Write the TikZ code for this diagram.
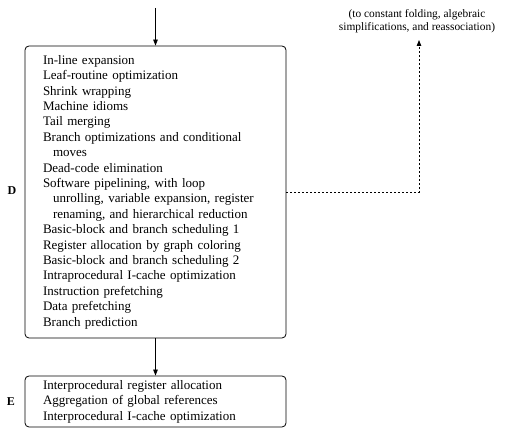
\documentclass[tikz,border=0pt]{standalone}
\usepackage{fontspec}
\setmainfont{Liberation Serif}
\usetikzlibrary{arrows.meta}
\begin{document}
\begin{tikzpicture}[x=1pt,y=1pt,
  phasebox/.style={draw, line width=0.8pt, rounded corners=4pt, minimum width=261pt,
    inner xsep=18pt, text width=225pt, align=left, anchor=center,
    font=\fontsize{13}{15.4}\selectfont},
  phaselabel/.style={font=\fontsize{12}{14}\selectfont\bfseries},
  flow/.style={line width=0.8pt, -{Triangle[length=6pt,width=4.5pt]}},
  dotflow/.style={line width=0.8pt, dash pattern=on 1.5pt off 2.5pt, -{Triangle[length=6pt,width=4.5pt]}},
  notetext/.style={align=center, font=\fontsize{11.4}{13}\selectfont}]
\useasboundingbox (0,0) rectangle (511,430);
\node[phasebox, minimum height=292pt] (D) at (155.5,238) {%
In-line expansion\\
Leaf-routine optimization\\
Shrink wrapping\\
Machine idioms\\
Tail merging\\
Branch optimizations and conditional\\
\hspace*{10pt}moves\\
Dead-code elimination\\
Software pipelining, with loop\\
\hspace*{10pt}unrolling, variable expansion, register\\
\hspace*{10pt}renaming, and hierarchical reduction\\
Basic-block and branch scheduling 1\\
Register allocation by graph coloring\\
Basic-block and branch scheduling 2\\
Intraprocedural I-cache optimization\\
Instruction prefetching\\
Data prefetching\\
Branch prediction};
\node[phasebox, minimum height=51pt] (E) at (155.5,28.5) {%
Interprocedural register allocation\\
Aggregation of global references\\
Interprocedural I-cache optimization};
\node[phaselabel] (Dl) at (12,239) {D};
\node[phaselabel] (El) at (11,28) {E};
\node[notetext] (note) at (417,408.5) {(to constant folding, algebraic\\simplifications, and reassociation)};
\coordinate (in) at (155.5,422);
\coordinate (turn) at (419,238);
\coordinate (tip) at (419,390);
\draw[flow] (in) -- (D.north);
\draw[flow] (D.south) -- (E.north);
\draw[dotflow] (D.east) -- (turn) -- (tip);
\end{tikzpicture}
\end{document}
